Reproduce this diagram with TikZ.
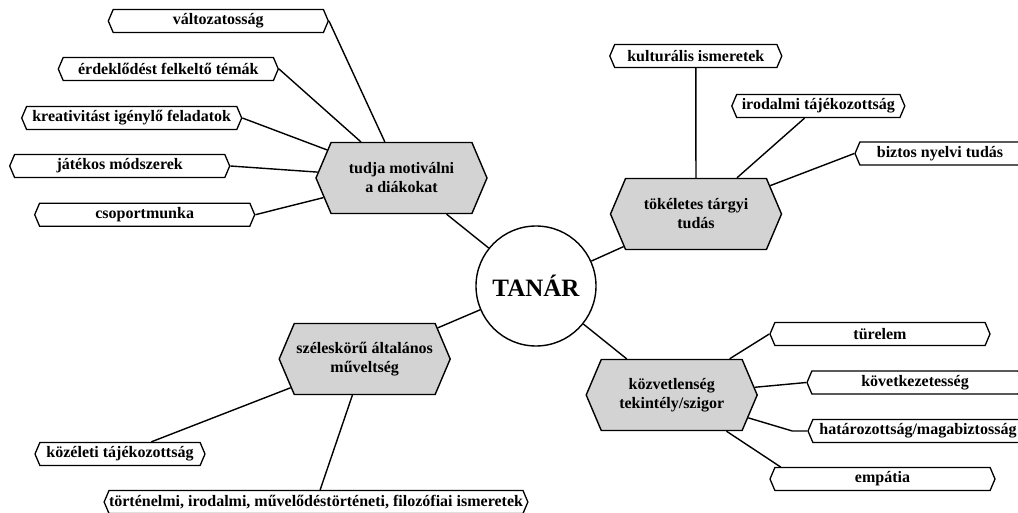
\documentclass[tikz,border=0pt]{standalone}
\usepackage{fontspec}
\setmainfont{Liberation Serif}
\usetikzlibrary{shapes.symbols,calc}
\definecolor{hexgray}{RGB}{211,211,211}
\tikzset{
  leafbox/.style={signal, signal to=west and east, signal pointer angle=134,
    draw, fill=white, line width=1.3pt, minimum height=23pt, inner sep=0pt,
    font=\bfseries\fontsize{16}{18}\selectfont},
  hexbox/.style={signal, signal to=west and east, signal pointer angle=134,
    draw, fill=hexgray, line width=1.4pt, minimum width=171pt, minimum height=71pt,
    inner sep=0pt, align=center, font=\bfseries\fontsize{16}{19}\selectfont},
  hub/.style={circle, draw, fill=white, line width=1.4pt, minimum size=120pt,
    inner sep=0pt, font=\bfseries\fontsize{25}{28}\selectfont},
  link/.style={line width=1.4pt}
}
\begin{document}
\begin{tikzpicture}[x=1pt,y=-1pt]
\useasboundingbox (0,0) rectangle (1018,513);
\clip (0,0) rectangle (1018,513);

% hub
\node[hub] (tanar) at (536,286) {TANÁR};

% main hexagons
\node[hexbox] (mot) at (401.5,178) {tudja motiválni\\a diákokat};
\node[hexbox] (tok) at (696,214) {tökéletes tárgyi\\tudás};
\node[hexbox] (koz) at (671.7,395) {közvetlenség\\tekintély/szigor};
\node[hexbox] (szel) at (364.7,359) {széleskörű általános\\műveltség};

% leaves of mot
\node[leafbox, minimum width=220pt] (valt) at (218.3,21) {változatosság};
\node[leafbox, minimum width=220pt] (erd) at (168.3,69) {érdeklődést felkeltő témák};
\node[leafbox, minimum width=220pt] (krea) at (131.7,118) {kreativitást igénylő feladatok};
\node[leafbox, minimum width=220pt] (jat) at (119.7,166) {játékos módszerek};
\node[leafbox, minimum width=220pt] (csop) at (144.7,214.7) {csoportmunka};

% leaves of tok
\node[leafbox, minimum width=172pt] (kult) at (695.8,56) {kulturális ismeretek};
\node[leafbox, minimum width=173pt] (irod) at (818.3,106) {irodalmi tájékozottság};
\node[leafbox, minimum width=170pt] (bizt) at (940,153.5) {biztos nyelvi tudás};

% leaves of koz
\node[leafbox, minimum width=220pt] (tur) at (880,334) {türelem};
\node[leafbox, minimum width=216pt] (kov) at (915,382.5) {következetesség};
\node[leafbox, minimum width=220pt] (hat) at (918,431) {határozottság/magabiztosság};
\node[leafbox, minimum width=225pt] (emp) at (882.5,479) {empátia};

% leaves of szel
\node[leafbox, minimum width=170pt] (kozel) at (120,454) {közéleti tájékozottság};
\node[leafbox, minimum width=418pt] (tort) at (316,502) {történelmi, irodalmi, művelődéstörténeti, filozófiai ismeretek};

% connectors
\draw[link] (mot) -- (tanar);
\draw[link] (tok) -- (tanar);
\draw[link] (koz) -- (tanar);
\draw[link] (szel) -- (tanar);

\draw[link] (valt.east) -- (mot);
\draw[link] (erd.east) -- (mot);
\draw[link] (krea.east) -- (mot);
\draw[link] (jat.east) -- (mot);
\draw[link] (csop.east) -- (mot);

\draw[link] (kult) -- (tok);
\draw[link] (irod) -- (tok);
\draw[link] (bizt.west) -- (tok);

\draw[link] (koz) -- (tur.west);
\draw[link] (koz) -- (kov.west);
\coordinate (hatk) at ($(hat.west)+(-15,0)$);
\draw[link] (koz) -- (hatk) -- (hat.west);
\coordinate (empk) at ($(emp.north west)!0.03!(emp.north east)$);
\draw[link] (koz) -- (empk);

\draw[link] (szel) -- (kozel);
\draw[link] (szel) -- (tort);
\end{tikzpicture}
\end{document}
